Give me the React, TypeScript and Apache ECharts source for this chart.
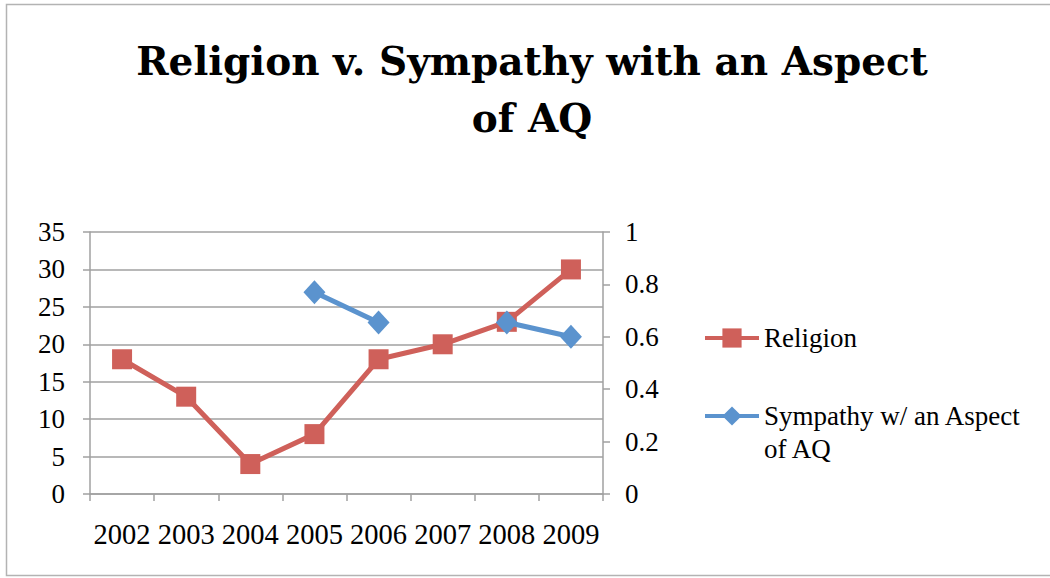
import React, { useEffect, useRef } from "react";
import * as echarts from "echarts";

const years = ["2002", "2003", "2004", "2005", "2006", "2007", "2008", "2009"];
const religion = [18, 13, 4, 8, 18, 20, 23, 30];
const sympathy = [null, null, null, 0.77, 0.655, null, 0.655, 0.6];
const titleText = "Religion v. Sympathy with an Aspect\nof AQ";
const religionName = "Religion";
const sympathyName = "Sympathy w/ an Aspect of AQ";
const sympathyLegendLines = ["", "Sympathy w/ an Aspect", "of AQ"];

const RED = "#CF605A";
const BLUE = "#5B93CE";
const GRID = "#A0A0A0";
const SERIF = "'Liberation Serif', 'Times New Roman', serif";

export default function App() {
  const ref = useRef<HTMLDivElement>(null);
  useEffect(() => {
    document.body.style.margin = "0";
    const chart = echarts.init(ref.current!, null, { renderer: "svg" });
    chart.setOption({
      animation: false,
      backgroundColor: "#ffffff",
      title: {
        text: titleText,
        left: 532,
        top: 32,
        textAlign: "center",
        padding: 0,
        textStyle: {
          fontFamily: "'DejaVu Serif', serif",
          fontWeight: "bold",
          fontSize: 39,
          lineHeight: 57,
          color: "#000",
        },
      },
      graphic: [
        {
          type: "rect",
          shape: { x: 6.5, y: 4.5, width: 1060, height: 571 },
          style: { fill: "none", stroke: "#B3B3B3", lineWidth: 1.5 },
          silent: true,
          z: -1,
        },
      ],
      legend: [
        {
          data: [religionName],
          orient: "vertical",
          left: 703,
          top: 323,
          padding: 0,
          itemWidth: 54,
          itemHeight: 24,
          itemGap: 0,
          lineStyle: { width: 4 },
          textStyle: { fontFamily: SERIF, fontSize: 27, lineHeight: 30, color: "#000" },
        },
        {
          data: [sympathyName],
          orient: "vertical",
          left: 703,
          top: 366.5,
          padding: 0,
          itemWidth: 54,
          itemHeight: 24,
          itemGap: 0,
          lineStyle: { width: 4 },
          formatter: () => sympathyLegendLines.join("\n"),
          textStyle: { fontFamily: SERIF, fontSize: 27, lineHeight: 33, color: "#000" },
        },
      ],
      grid: { left: 90, right: 447, top: 232, bottom: 84 },
      xAxis: {
        type: "category",
        data: years,
        boundaryGap: true,
        axisLine: { show: true, lineStyle: { color: GRID, width: 1.5 } },
        axisTick: { show: true, length: 7, alignWithLabel: false, lineStyle: { color: GRID, width: 1.5 } },
        axisLabel: { fontFamily: SERIF, fontSize: 28.5, lineHeight: 30, color: "#000", margin: 25, interval: 0 },
      },
      yAxis: [
        {
          type: "value",
          min: 0,
          max: 35,
          interval: 5,
          position: "left",
          axisLine: { show: true, lineStyle: { color: GRID, width: 1.5 } },
          axisTick: { show: true, length: 7, lineStyle: { color: GRID, width: 1.5 } },
          axisLabel: { fontFamily: SERIF, fontSize: 27, color: "#000", margin: 25 },
          splitLine: { show: true, lineStyle: { color: GRID, width: 1.5 } },
        },
        {
          type: "value",
          min: 0,
          max: 1,
          interval: 0.2,
          position: "right",
          axisLine: { show: true, lineStyle: { color: GRID, width: 1.5 } },
          axisTick: { show: true, length: 7, lineStyle: { color: GRID, width: 1.5 } },
          axisLabel: { fontFamily: SERIF, fontSize: 27, color: "#000", margin: 22 },
          splitLine: { show: false },
        },
      ],
      series: [
        {
          name: religionName,
          type: "line",
          data: religion,
          yAxisIndex: 0,
          symbol: "rect",
          symbolSize: 20,
          itemStyle: { color: RED },
          lineStyle: { color: RED, width: 5 },
          z: 2,
        },
        {
          name: sympathyName,
          type: "line",
          data: sympathy,
          yAxisIndex: 1,
          connectNulls: false,
          symbol: "diamond",
          symbolSize: [22, 24],
          itemStyle: { color: BLUE },
          lineStyle: { color: BLUE, width: 5 },
          z: 3,
        },
      ],
    });
    return () => chart.dispose();
  }, []);
  return <div ref={ref} style={{ position: "absolute", left: 0, top: 0, width: 1050, height: 578 }} />;
}
